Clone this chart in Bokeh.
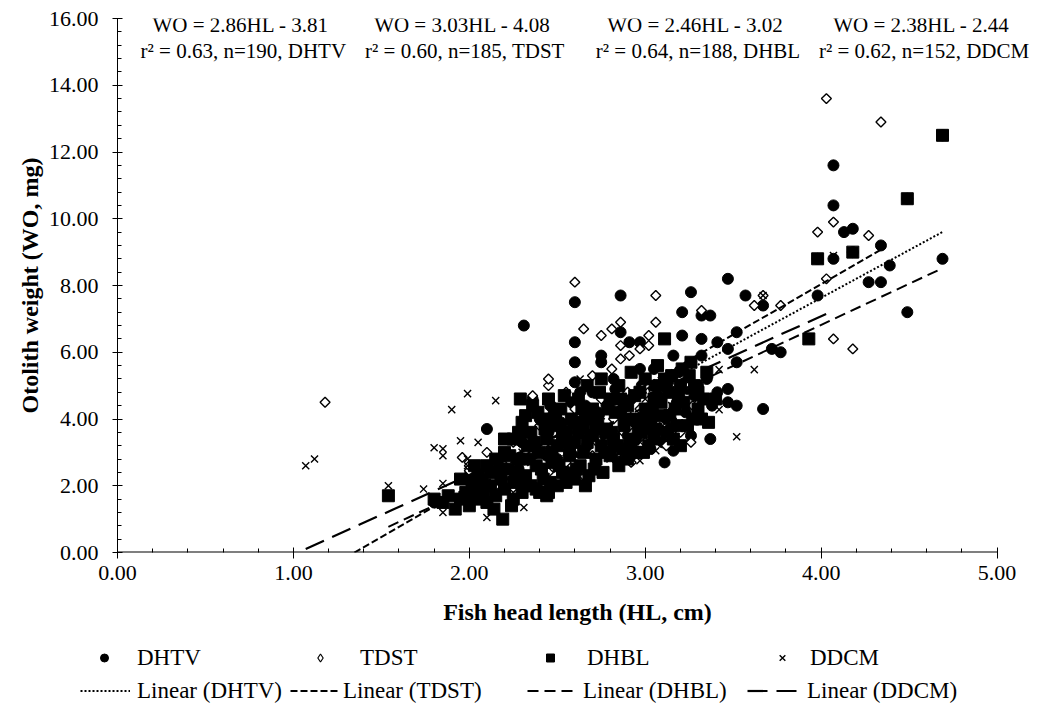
import numpy as np
from bokeh.plotting import figure
from bokeh.layouts import column
from bokeh.models import (Label, Legend, LegendItem, FixedTicker,
                          NumeralTickFormatter, Range1d)
from bokeh.embed import file_html
from bokeh.resources import INLINE

FONT = "Liberation Serif"

# ---------------- data ----------------
series_names = ["DHTV", "TDST", "DHBL", "DDCM"]
slopes = [2.86, 3.03, 2.46, 2.38]
intercepts = [-3.81, -4.08, -3.02, -2.44]
r_squared = [0.63, 0.60, 0.64, 0.62]
n_fish = [190, 185, 188, 152]

x_ticks = [0, 1, 2, 3, 4, 5]
y_ticks = [0, 2, 4, 6, 8, 10, 12, 14, 16]

dhtv_points = [
    (1.80, 1.5), (2.00, 2.3), (2.05, 1.9), (2.10, 3.7), (2.12, 2.0), (2.15, 2.4),
    (2.18, 2.6), (2.20, 2.9), (2.25, 2.2), (2.28, 2.5), (2.30, 3.3), (2.31, 6.8),
    (2.33, 3.6), (2.36, 4.6), (2.38, 3.0), (2.40, 4.0), (2.42, 2.5), (2.44, 2.9),
    (2.45, 3.6), (2.46, 4.4), (2.48, 4.2), (2.50, 2.8), (2.52, 3.9), (2.53, 3.7),
    (2.55, 3.3), (2.57, 2.4), (2.58, 4.5), (2.60, 5.1), (2.60, 5.7), (2.60, 6.3),
    (2.60, 7.5), (2.62, 3.0), (2.63, 4.8), (2.65, 4.0), (2.66, 4.4), (2.67, 3.2),
    (2.68, 3.6), (2.70, 4.8), (2.72, 2.7), (2.73, 4.2), (2.75, 5.7), (2.75, 5.9),
    (2.77, 3.5), (2.78, 4.4), (2.80, 3.2), (2.82, 5.2), (2.83, 4.9), (2.84, 2.8),
    (2.86, 6.6), (2.86, 7.7), (2.87, 4.3), (2.88, 3.8), (2.90, 3.5), (2.91, 6.3),
    (2.92, 4.6), (2.92, 2.9), (2.94, 3.9), (2.95, 3.4), (2.97, 6.3), (2.97, 5.5),
    (2.98, 5.0), (3.00, 4.2), (3.02, 3.7), (3.03, 3.1), (3.04, 5.0), (3.05, 5.5),
    (3.06, 4.1), (3.08, 4.8), (3.10, 3.3), (3.11, 2.7), (3.12, 4.0), (3.13, 5.1),
    (3.14, 3.7), (3.16, 3.05), (3.16, 5.9), (3.18, 4.5), (3.19, 5.4), (3.21, 6.5),
    (3.21, 7.2), (3.23, 4.2), (3.24, 4.9), (3.26, 7.8), (3.26, 3.5), (3.28, 4.7),
    (3.30, 5.0), (3.32, 5.9), (3.32, 6.4), (3.32, 7.1), (3.35, 5.2), (3.37, 7.1),
    (3.37, 3.4), (3.38, 4.4), (3.41, 6.3), (3.41, 4.8), (3.47, 6.1), (3.47, 8.2),
    (3.47, 4.9), (3.47, 4.5), (3.52, 6.6), (3.52, 5.7), (3.52, 4.4), (3.57, 7.7),
    (3.67, 7.4), (3.67, 4.3), (3.72, 6.1), (3.77, 6.0), (3.98, 7.7), (3.98, 8.8),
    (4.07, 8.8), (4.07, 10.4), (4.07, 11.6), (4.13, 9.6), (4.18, 9.7), (4.18, 9.0),
    (4.27, 8.1), (4.34, 8.1), (4.34, 9.2), (4.39, 8.6), (4.49, 10.6), (4.49, 7.2),
    (4.69, 12.5), (4.69, 8.8),
]

tdst_points = [
    (1.18, 4.5), (1.96, 2.85), (2.00, 2.45), (2.00, 2.6), (2.05, 2.2), (2.10, 3.0),
    (2.15, 2.0), (2.20, 2.6), (2.25, 3.3), (2.30, 2.3), (2.35, 2.9), (2.36, 4.7),
    (2.40, 3.8), (2.45, 2.4), (2.45, 5.0), (2.45, 5.2), (2.50, 3.4), (2.55, 2.7),
    (2.55, 4.8), (2.60, 4.3), (2.60, 8.1), (2.62, 3.1), (2.65, 6.7), (2.68, 3.8),
    (2.70, 2.9), (2.70, 5.3), (2.75, 4.6), (2.75, 6.5), (2.78, 3.3), (2.81, 5.5),
    (2.81, 6.7), (2.82, 4.0), (2.85, 3.0), (2.86, 5.8), (2.86, 6.2), (2.86, 6.9),
    (2.90, 4.8), (2.91, 5.9), (2.92, 2.7), (2.93, 3.6), (2.97, 4.3), (2.97, 6.1),
    (3.00, 3.3), (3.00, 5.0), (3.02, 6.2), (3.02, 6.5), (3.05, 3.8), (3.06, 6.9),
    (3.06, 7.7), (3.10, 4.9), (3.12, 3.2), (3.15, 4.0), (3.20, 3.6), (3.25, 5.0),
    (3.26, 3.3), (3.27, 4.4), (3.30, 4.2), (3.32, 7.25), (3.62, 7.4), (3.67, 7.7),
    (3.77, 7.4), (3.98, 9.6), (4.03, 8.2), (4.03, 13.6), (4.07, 6.4), (4.07, 9.9),
    (4.18, 6.1), (4.27, 9.5), (4.34, 12.9),
]

dhbl_points = [
    (1.54, 1.7), (1.80, 1.6), (1.85, 1.5), (1.88, 1.7), (1.92, 1.3), (1.95, 1.6),
    (1.95, 2.2), (1.98, 1.8), (2.00, 1.4), (2.00, 1.7), (2.02, 2.0), (2.03, 2.6),
    (2.05, 1.6), (2.05, 2.3), (2.07, 2.1), (2.08, 1.8), (2.10, 2.6), (2.10, 1.5),
    (2.12, 2.0), (2.12, 2.4), (2.14, 1.3), (2.15, 2.8), (2.15, 1.7), (2.17, 2.5),
    (2.18, 2.2), (2.19, 1.0), (2.20, 3.0), (2.20, 1.9), (2.20, 3.4), (2.22, 2.5),
    (2.23, 2.9), (2.24, 1.4), (2.25, 3.4), (2.25, 1.6), (2.25, 2.1), (2.27, 2.4),
    (2.28, 2.8), (2.28, 3.6), (2.29, 4.6), (2.30, 1.8), (2.30, 3.9), (2.31, 2.0),
    (2.32, 2.3), (2.32, 4.1), (2.33, 3.2), (2.34, 2.8), (2.35, 2.0), (2.35, 3.6),
    (2.36, 4.4), (2.37, 3.3), (2.38, 2.6), (2.38, 1.9), (2.39, 4.2), (2.40, 1.8),
    (2.40, 3.0), (2.41, 2.5), (2.42, 4.0), (2.42, 2.2), (2.43, 3.7), (2.44, 3.4),
    (2.44, 1.7), (2.45, 1.8), (2.45, 4.6), (2.46, 2.1), (2.47, 2.7), (2.47, 3.0),
    (2.48, 3.8), (2.49, 4.0), (2.50, 2.0), (2.50, 3.2), (2.51, 2.6), (2.52, 4.3),
    (2.53, 2.4), (2.53, 3.5), (2.54, 4.7), (2.55, 3.6), (2.55, 2.1), (2.56, 2.3),
    (2.57, 2.9), (2.57, 3.2), (2.58, 4.0), (2.59, 3.9), (2.60, 3.3), (2.60, 2.2),
    (2.61, 2.5), (2.62, 4.6), (2.62, 3.6), (2.63, 2.6), (2.64, 4.3), (2.65, 3.0),
    (2.65, 3.8), (2.66, 2.0), (2.67, 5.0), (2.67, 3.3), (2.68, 2.3), (2.69, 4.0),
    (2.70, 3.5), (2.70, 4.3), (2.71, 2.5), (2.72, 2.8), (2.72, 3.7), (2.73, 4.0),
    (2.74, 4.8), (2.75, 3.2), (2.75, 5.2), (2.76, 2.4), (2.77, 3.0), (2.78, 3.7),
    (2.79, 4.3), (2.80, 4.6), (2.80, 2.9), (2.81, 3.6), (2.82, 3.4), (2.83, 4.2),
    (2.84, 3.2), (2.85, 2.6), (2.85, 5.0), (2.86, 4.6), (2.87, 3.1), (2.88, 3.8),
    (2.89, 4.0), (2.90, 4.4), (2.90, 2.8), (2.91, 3.2), (2.92, 5.4), (2.93, 3.4),
    (2.94, 4.7), (2.95, 4.0), (2.95, 3.0), (2.96, 3.7), (2.97, 4.8), (2.98, 3.6),
    (2.99, 3.0), (3.00, 4.3), (3.00, 5.2), (3.01, 4.0), (3.02, 3.2), (3.03, 3.9),
    (3.04, 4.3), (3.05, 4.6), (3.05, 3.4), (3.06, 3.7), (3.07, 5.6), (3.08, 5.0),
    (3.09, 4.5), (3.10, 4.1), (3.11, 6.4), (3.11, 5.2), (3.12, 3.6), (3.13, 4.8),
    (3.14, 4.1), (3.15, 5.3), (3.16, 3.4), (3.17, 4.3), (3.18, 3.8), (3.19, 4.7),
    (3.20, 5.0), (3.20, 3.2), (3.21, 5.5), (3.22, 4.5), (3.24, 3.8), (3.25, 5.3),
    (3.26, 5.7), (3.27, 4.0), (3.28, 5.0), (3.30, 4.8), (3.30, 4.3), (3.32, 4.0),
    (3.33, 4.6), (3.35, 5.4), (3.36, 3.9), (3.40, 4.6), (3.93, 6.4), (3.98, 8.8),
    (4.18, 9.0), (4.49, 10.6), (4.69, 12.5),
]

ddcm_points = [
    (1.07, 2.6), (1.12, 2.8), (1.54, 2.0), (1.74, 1.9), (1.80, 3.14), (1.85, 3.11),
    (1.85, 2.9), (1.85, 2.07), (1.85, 1.2), (1.90, 4.28), (1.95, 3.35), (1.99, 4.76),
    (1.99, 2.8), (1.99, 2.6), (2.00, 2.1), (2.05, 3.3), (2.05, 1.8), (2.10, 1.05),
    (2.10, 2.4), (2.15, 4.55), (2.20, 2.3), (2.25, 1.8), (2.30, 3.0), (2.31, 1.35),
    (2.35, 2.7), (2.40, 2.0), (2.45, 3.2), (2.47, 4.4), (2.50, 2.5), (2.55, 3.0),
    (2.60, 3.7), (2.63, 5.2), (2.65, 2.16), (2.70, 3.3), (2.75, 4.1), (2.80, 2.8),
    (2.85, 3.6), (2.90, 4.1), (2.95, 3.2), (2.97, 2.75), (3.00, 4.6), (3.06, 3.05),
    (3.10, 3.8), (3.15, 4.4), (3.20, 5.0), (3.30, 4.6), (3.42, 4.28), (3.42, 5.48),
    (3.52, 3.47), (3.62, 5.48), (3.67, 7.7), (4.07, 8.9),
]

all_points = [dhtv_points, tdst_points, dhbl_points, ddcm_points]

# ---------------- main figure ----------------
p = figure(width=1040, height=640, output_backend="svg", toolbar_location=None,
           x_range=Range1d(0, 5.23), y_range=Range1d(0, 16),
           min_border_left=117, min_border_right=3, min_border_top=18,
           min_border_bottom=88)
p.outline_line_color = None
p.xgrid.visible = False
p.ygrid.visible = False
p.background_fill_color = "white"
p.border_fill_color = "white"

marker_styles = [
    dict(marker="circle", size=11, fill_color="black", line_color="black"),
    dict(marker="square", size=7, angle=np.pi / 4, fill_color="white",
         line_color="black", line_width=1.4),
    dict(marker="square", size=12, fill_color="black", line_color="black"),
    dict(marker="x", size=10, line_color="black", line_width=1.4),
]
legend_marker_styles = [
    dict(marker="circle", fill_color="black", line_color="black"),
    dict(marker="diamond", fill_color="white", line_color="black", line_width=1.2),
    dict(marker="square", fill_color="black", line_color="black"),
    dict(marker="x", line_color="black", line_width=1.4),
]
line_styles = [
    dict(line_dash="2 2", line_width=2),
    dict(line_dash="7 3", line_width=2),
    dict(line_dash="11 6", line_width=2),
    dict(line_dash="20 9", line_width=2.2),
]

for pts, st in zip(all_points, marker_styles):
    p.scatter([a for a, b in pts], [b for a, b in pts], **st)

for pts, m, b, st in zip(all_points, slopes, intercepts, line_styles):
    xs = [a for a, _ in pts]
    x0 = max(min(xs), -b / m)
    x1 = max(xs)
    p.line([x0, x1], [m * x0 + b, m * x1 + b], line_color="black", **st)

# x axis line stops at the last tick (the frame is wider to hold the texts)
p.segment(x0=[x_ticks[0]], y0=[y_ticks[0]], x1=[x_ticks[-1]], y1=[y_ticks[0]],
          line_color="black", line_width=2)

for ax in (p.xaxis[0], p.yaxis[0]):
    ax.axis_line_color = "black"
    ax.major_tick_line_color = "black"
    ax.minor_tick_line_color = "black"
    ax.major_label_text_font = FONT
    ax.major_label_text_font_size = "22px"
    ax.major_label_text_color = "black"
    ax.axis_label_text_font = FONT
    ax.axis_label_text_font_size = "24px"
    ax.axis_label_text_font_style = "bold"
    ax.axis_label_text_color = "black"
    ax.formatter = NumeralTickFormatter(format="0.00")

p.xaxis.axis_line_color = None
p.xaxis.ticker = FixedTicker(ticks=x_ticks,
                             minor_ticks=[i * 0.2 for i in range(26)])
p.yaxis.ticker = FixedTicker(ticks=y_ticks,
                             minor_ticks=[i * 0.4 for i in range(41)])
p.xaxis.axis_label = "Fish head length (HL, cm)"
p.yaxis.axis_label = "Otolith weight (WO, mg)"
p.xaxis.major_tick_in = 5
p.xaxis.major_tick_out = 6
p.xaxis.minor_tick_in = 4
p.xaxis.minor_tick_out = 0
p.yaxis.major_tick_in = 5
p.yaxis.major_tick_out = 5
p.yaxis.minor_tick_in = 4
p.yaxis.minor_tick_out = 0
p.xaxis.major_label_standoff = 7
p.xaxis.axis_label_standoff = 16
p.yaxis.major_label_standoff = 14
p.yaxis.axis_label_standoff = 3

# ---------------- equation annotations ----------------
eq_centers = [0.715, 1.975, 3.30, 4.585]
for i in range(4):
    line1 = f"WO = {slopes[i]:.2f}HL  - {abs(intercepts[i]):.2f}"
    line2 = f"r\u00b2 = {r_squared[i]:.2f}, n={n_fish[i]}, {series_names[i]}"
    for txt, yy in ((line1, 15.80), (line2, 15.02)):
        p.add_layout(Label(x=eq_centers[i], y=yy, text=txt, text_align="center",
                           text_baseline="middle", text_font=FONT,
                           text_font_size="21px", text_color="black"))

# ---------------- legend strip below ----------------
lf = figure(width=1040, height=82, output_backend="svg", toolbar_location=None,
            x_range=Range1d(0, 1), y_range=Range1d(0, 1),
            x_axis_location=None, y_axis_location=None,
            min_border_left=0, min_border_right=0, min_border_top=0,
            min_border_bottom=0)
lf.xgrid.visible = False
lf.ygrid.visible = False
lf.outline_line_color = None
for fig in (p, lf):
    try:
        fig.frame_align = False
    except Exception:
        pass

def add_legend(label, renderer, loc, gw, standoff):
    lg = Legend(items=[LegendItem(label=label, renderers=[renderer])],
                location=loc, orientation="horizontal",
                glyph_width=gw, glyph_height=27, label_standoff=standoff,
                padding=0, margin=0, spacing=0,
                border_line_alpha=0, background_fill_alpha=0,
                label_text_font=FONT, label_text_font_size="23px",
                label_text_color="black", label_height=27)
    lf.add_layout(lg, "center")

# legend-only renderers (no visible data of their own)
row1_marker_x = [104, 320, 550, 782]
row1_label_x = [137, 360, 587, 810]
for i in range(4):
    r = lf.scatter([np.nan], [np.nan], **legend_marker_styles[i])
    add_legend(series_names[i], r, (row1_marker_x[i] - 10, 51),
               20, row1_label_x[i] - row1_marker_x[i] - 10)

row2_x = [80, 290, 527, 747]
row2_w = [50, 50, 50, 53]
row2_label_x = [137, 343, 583, 807]
for i in range(4):
    r = lf.line([np.nan, np.nan], [np.nan, np.nan], line_color="black", **line_styles[i])
    add_legend(f"Linear ({series_names[i]})", r, (row2_x[i], 18),
               row2_w[i], row2_label_x[i] - row2_x[i] - row2_w[i])

open("out.html", "w").write(file_html(column(p, lf, spacing=0), INLINE))
